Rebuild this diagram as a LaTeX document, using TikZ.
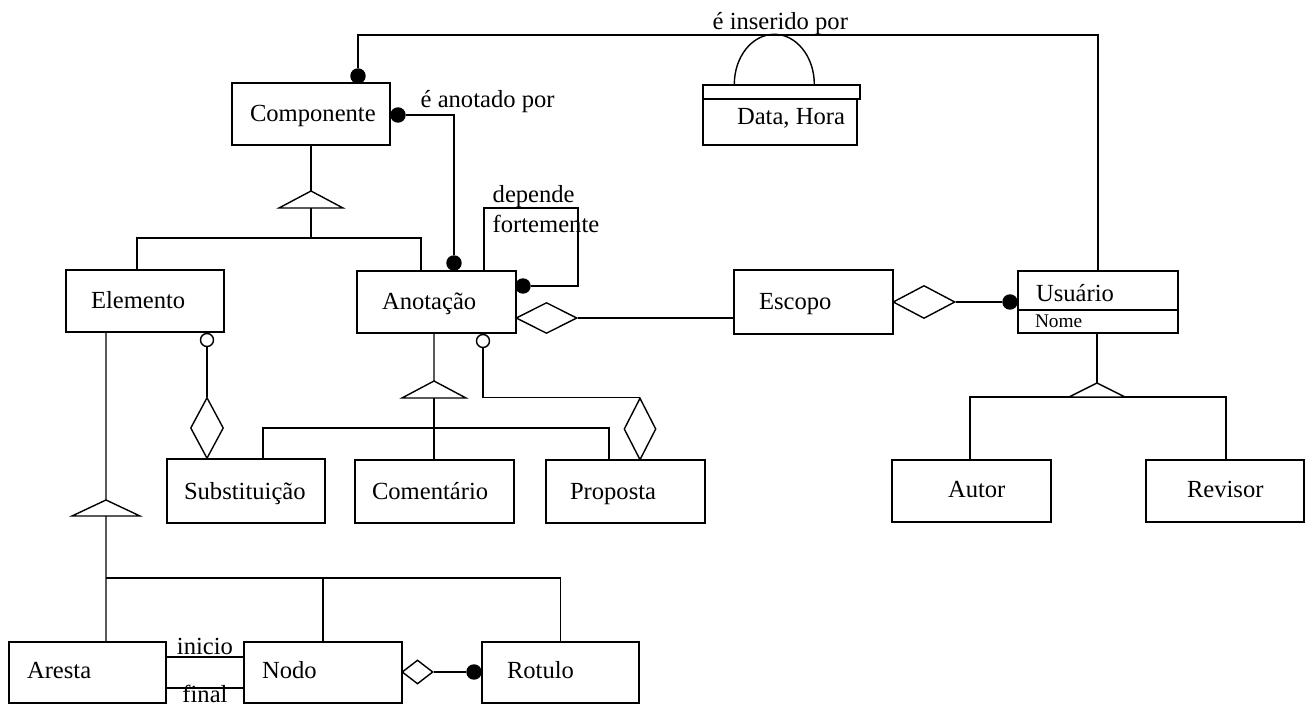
\documentclass[tikz,border=0pt]{standalone}
\usepackage{fontspec}
\setmainfont{Liberation Serif}
\usetikzlibrary{shapes.geometric,calc}
\begin{document}
\begin{tikzpicture}[x=0.02cm,y=-0.02cm,line width=0.8pt,
  box/.style={draw, rectangle, inner sep=0pt},
  txt/.style={font=\fontsize{14}{17}\selectfont, inner sep=0pt},
  small/.style={font=\fontsize{11}{13}\selectfont, inner sep=0pt},
  dot/.style={circle, fill, draw, inner sep=0pt, minimum size=0.28cm},
  ring/.style={circle, draw, fill=white, inner sep=0pt, minimum size=0.26cm},
  agg/.style={diamond, draw, fill=white, inner sep=0pt},
  gen/.style={draw, fill=white, line join=miter},
  clsname/.style={txt, anchor=base west, yshift=-0.16cm}
]
\useasboundingbox (0,0) rectangle (1312,705);

% classes
\node[box, minimum width=3.16cm, minimum height=1.24cm,
  label={[clsname,xshift=0.36cm]west:Componente}] (comp) at (311,114) {};
\node[box, minimum width=3.16cm, minimum height=1.24cm,
  label={[clsname,xshift=0.5cm]west:Elemento}] (elem) at (145,301) {};
\node[box, minimum width=3.18cm, minimum height=1.24cm,
  label={[clsname,xshift=0.5cm]west:Anotação}] (anot) at (436.5,302) {};
\node[box, minimum width=3.18cm, minimum height=1.28cm,
  label={[clsname,xshift=0.5cm]west:Escopo}] (escopo) at (813.5,302) {};
\node[box, minimum width=3.2cm, minimum height=1.24cm,
  label={[clsname,xshift=0.36cm,yshift=0.16cm]west:Usuário},
  label={[small,anchor=base west,xshift=0.34cm,yshift=-0.52cm]west:Nome}] (usuario) at (1098,302) {};
\draw ($(usuario.west)+(0,8)$) -- ($(usuario.east)+(0,8)$);
\node[box, minimum width=3.16cm, minimum height=1.28cm,
  label={[clsname,xshift=0.34cm,yshift=-0.02cm]west:Substituição}] (subs) at (246,491) {};
\node[box, minimum width=3.18cm, minimum height=1.26cm,
  label={[clsname,xshift=0.34cm]west:Comentário}] (coment) at (434.5,491.5) {};
\node[box, minimum width=3.18cm, minimum height=1.26cm,
  label={[clsname,xshift=0.48cm]west:Proposta}] (prop) at (625.5,491.5) {};
\node[box, minimum width=3.18cm, minimum height=1.24cm,
  label={[clsname,xshift=1.12cm,yshift=0.02cm]west:Autor}] (autor) at (971.5,491) {};
\node[box, minimum width=3.16cm, minimum height=1.24cm,
  label={[clsname,xshift=0.82cm,yshift=0.02cm]west:Revisor}] (revisor) at (1225,491) {};
\node[box, minimum width=3.14cm, minimum height=1.22cm,
  label={[clsname,xshift=0.36cm,yshift=0.04cm]west:Aresta}] (aresta) at (87.5,672.5) {};
\node[box, minimum width=3.16cm, minimum height=1.22cm,
  label={[clsname,xshift=0.36cm,yshift=0.04cm]west:Nodo}] (nodo) at (323,672.5) {};
\node[box, minimum width=3.14cm, minimum height=1.22cm,
  label={[clsname,xshift=0.5cm,yshift=0.04cm]west:Rotulo}] (rotulo) at (560.5,672.5) {};

% Data, Hora attribute of the "é inserido por" relation
\node[box, minimum width=3.14cm, minimum height=0.28cm] (dhstrip) at (781.5,92) {};
\node[box, minimum width=3.08cm, minimum height=0.92cm,
  label={[clsname,xshift=0.68cm,yshift=0.1cm]west:Data, Hora}] (dh) at (780,122) {};
\draw ($(dhstrip.north west)+(32,0)$) arc[start angle=180, end angle=360, x radius=40, y radius=50];

% relation ends
\node[dot] (d1) at (358,76) {};
\node[dot] (d2) at (398,115) {};
\node[dot] (d3) at (454,263) {};
\node[dot] (d4) at (523,286) {};
\node[dot] (d5) at (1010,302) {};
\node[dot] (d6) at (474,672) {};
\node[ring] (r1) at (207,340) {};
\node[ring] (r2) at (483,341) {};

% aggregation diamonds
\node[agg, minimum width=1.22cm, minimum height=0.62cm] (ag1) at (546.5,318) {};
\node[agg, minimum width=1.24cm, minimum height=0.66cm] (ag2) at (924,302) {};
\node[agg, minimum width=0.66cm, minimum height=1.22cm] (ag3) at (207,428) {};
\node[agg, minimum width=0.64cm, minimum height=1.24cm] (ag4) at (640,429) {};
\node[agg, minimum width=0.62cm, minimum height=0.48cm] (ag5) at (417.5,672) {};

% é inserido por
\coordinate (ins) at (1098,35);
\draw (d1) |- (ins) -- (usuario.north);
\node[txt, anchor=base west] (lins) at (712,30) {é inserido por};

% é anotado por
\draw (d2) -| (d3);
\node[txt, anchor=base west] (lanot) at (420,108) {é anotado por};

% depende fortemente
\draw (d4) -| (578,208) -| ([xshift=0.95cm]anot.north);
\node[txt, anchor=west, align=left] (ldep) at (492,209) {depende\\fortemente};

% aggregations
\draw (ag1.east) -- (ag1.east -| escopo.west);
\draw (ag2.east) -- (d5);
\draw (r1) -- (ag3.north);
\draw (r2.south) |- (ag4.north);
\draw (ag5.east) -- (d6);

% Componente generalization
\coordinate (t1) at (311,191);
\coordinate (h1) at (311,238);
\draw (comp.south) -- (t1);
\draw ($(t1)+(0,17)$) -- (h1);
\draw ([xshift=-0.16cm]elem.north) |- (h1) -| ([xshift=-0.31cm]anot.north);
\draw[gen] (t1) -- ++(-32,17) -- ++(64,0) -- cycle;

% Elemento generalization
\coordinate (t2) at (106,500);
\coordinate (h2) at (106,578);
\draw ([xshift=-0.78cm]elem.south) -- (t2);
\draw ($(t2)+(0,16)$) -- ([xshift=0.37cm]aresta.north);
\draw (nodo.north) |- (h2);
\draw (h2) -| (rotulo.north);
\draw[gen] (t2) -- ++(-34,16) -- ++(68,0) -- cycle;

% Anotação generalization
\coordinate (t3) at (434,381);
\coordinate (h3) at (434,428);
\draw ([xshift=-0.05cm]anot.south) -- (t3);
\draw ($(t3)+(0,17)$) -- (coment.north -| t3);
\draw ([xshift=0.34cm]subs.north) |- (h3) -| ([xshift=-0.33cm]prop.north);
\draw[gen] (t3) -- ++(-32,17) -- ++(64,0) -- cycle;

% Usuário generalization
\coordinate (t4) at (1097,383);
\coordinate (h4) at (1097,397);
\draw ([xshift=-0.02cm]usuario.south) -- (t4);
\draw ([xshift=-0.03cm]autor.north) |- (h4) -| ([xshift=0.02cm]revisor.north);
\draw[gen] (t4) -- ++(-28,14) -- ++(56,0) -- cycle;

% Aresta -- Nodo
\draw ([yshift=0.31cm]aresta.east) -- ([yshift=0.31cm]aresta.east -| nodo.west)
  node[txt, midway, above=1pt] (linicio) {inicio};
\draw ([yshift=-0.31cm]aresta.east) -- ([yshift=-0.31cm]aresta.east -| nodo.west)
  coordinate[midway] (fmid);
\node[txt, anchor=base] (lfinal) at (fmid |- 0,703) {final};
\end{tikzpicture}
\end{document}
